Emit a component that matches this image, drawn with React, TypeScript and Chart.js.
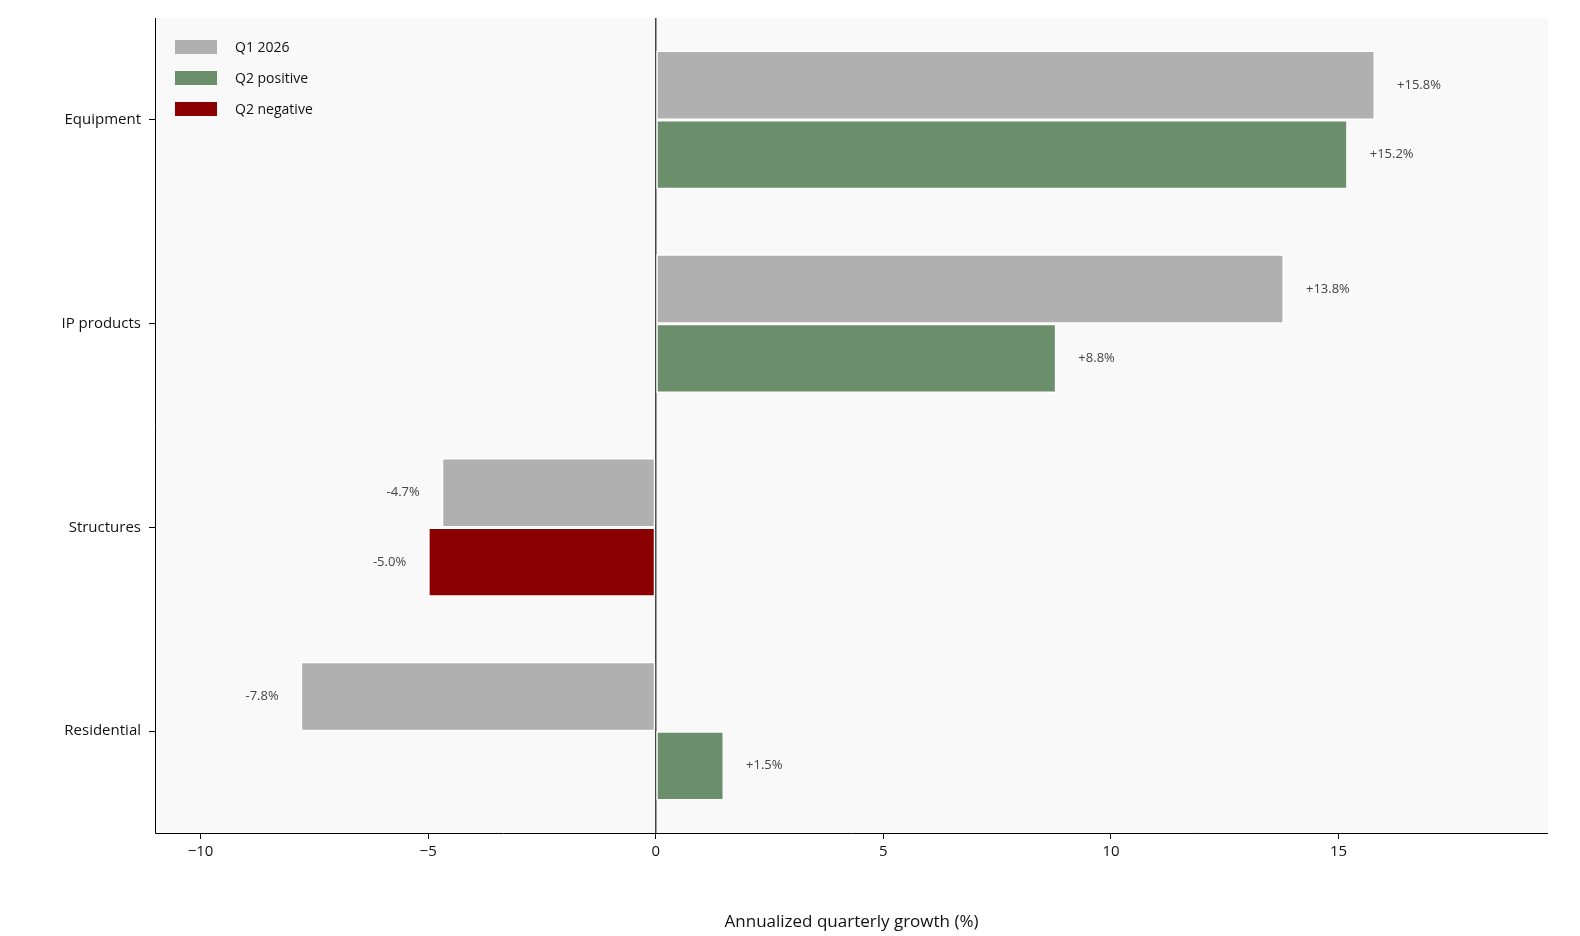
import React, { useEffect, useRef } from "react";
import { Chart, registerables } from "chart.js";
Chart.register(...registerables);

const categories = ["Equipment", "IP products", "Structures", "Residential"];
const q1Values = [15.8, 13.8, -4.7, -7.8];
const q2Values = [15.2, 8.8, -5.0, 1.5];
const xTicks = [-10, -5, 0, 5, 10, 15];
const GRAY = "#b0b0b0", GREEN = "#6a8f6a", RED = "#8b0000";
const FONT = "'Open Sans', 'Noto Sans', sans-serif";

const fmt = (v: number) => (v > 0 ? "+" : "") + v.toFixed(1) + "%";

export default function App() {
  const ref = useRef<HTMLCanvasElement>(null);
  useEffect(() => {
    document.body.style.margin = "0";
    const plugin = {
      id: "custom",
      beforeDraw(c: any) {
        const { ctx, chartArea: a } = c;
        ctx.save();
        ctx.fillStyle = "#fff";
        ctx.fillRect(0, 0, c.width, c.height);
        ctx.fillStyle = "#f9f9f9";
        ctx.fillRect(a.left, a.top, a.right - a.left, a.bottom - a.top);
        ctx.restore();
      },
      beforeDatasetsDraw(c: any) {
        const { ctx, chartArea: a } = c;
        const x0 = c.scales.x.getPixelForValue(0);
        ctx.save();
        ctx.strokeStyle = "#444";
        ctx.lineWidth = 1.5;
        ctx.beginPath();
        ctx.moveTo(x0, a.top);
        ctx.lineTo(x0, a.bottom);
        ctx.stroke();
        ctx.restore();
      },
      afterDatasetsDraw(c: any) {
        const { ctx, chartArea: a } = c;
        ctx.save();
        ctx.font = "13px " + FONT;
        ctx.fillStyle = "#444";
        ctx.textBaseline = "middle";
        c.data.datasets.forEach((ds: any, di: number) => {
          c.getDatasetMeta(di).data.forEach((bar: any, i: number) => {
            const v = ds.data[i];
            if (v >= 0) { ctx.textAlign = "left"; ctx.fillText(fmt(v), bar.x + 22, bar.y); }
            else { ctx.textAlign = "right"; ctx.fillText(fmt(v), bar.x - 22, bar.y); }
          });
        });
        // legend
        const items: [string, string][] = [["Q1 2026", GRAY], ["Q2 positive", GREEN], ["Q2 negative", RED]];
        ctx.font = "14px " + FONT;
        ctx.fillStyle = "#111";
        ctx.textAlign = "left";
        items.forEach(([t, col], k) => {
          const y = a.top + 29 + k * 31;
          ctx.fillStyle = col;
          ctx.fillRect(a.left + 20, y - 7, 42, 14);
          ctx.fillStyle = "#111";
          ctx.fillText(t, a.left + 80, y + 1);
        });
        ctx.strokeStyle = "#000";
        ctx.lineWidth = 1;
        ctx.beginPath();
        ctx.moveTo(a.left + 0.5, a.top);
        ctx.lineTo(a.left + 0.5, a.bottom + 0.5);
        ctx.lineTo(a.right, a.bottom + 0.5);
        ctx.stroke();
        ctx.restore();
      },
    };
    const chart = new Chart(ref.current!, {
      type: "bar",
      data: {
        labels: categories,
        datasets: [
          { label: "Q1 2026", data: q1Values, backgroundColor: GRAY, borderColor: "#fff", borderWidth: 1.5, borderSkipped: false },
          { label: "Q2", data: q2Values, backgroundColor: q2Values.map((v) => (v >= 0 ? GREEN : RED)), borderColor: "#fff", borderWidth: 1.5, borderSkipped: false },
        ],
      },
      options: {
        indexAxis: "y",
        animation: false,
        responsive: false,
        categoryPercentage: 0.68,
        barPercentage: 1,
        layout: { padding: { top: 18, right: 32, left: 0, bottom: 0 } },
        plugins: { legend: { display: false }, tooltip: { enabled: false } },
        scales: {
          x: {
            min: -11, max: 19.6,
            afterBuildTicks: (s: any) => { s.ticks = xTicks.map((v) => ({ value: v })); },
            afterFit: (s: any) => { s.height = 103; },
            border: { display: false },
            grid: { drawOnChartArea: false, tickLength: 6, color: "#000" },
            ticks: { color: "#111", font: { size: 15, family: FONT }, callback: (v: any) => (v < 0 ? "\u2212" + Math.abs(v) : String(v)), padding: 4 },
            title: { display: true, text: "Annualized quarterly growth (%)", color: "#111", font: { size: 17, family: FONT }, padding: { top: 4 } },
          },
          y: {
            afterFit: (s: any) => { s.width = 155; },
            border: { display: false },
            grid: { drawOnChartArea: false, offset: false, tickLength: 6, color: "#000" },
            ticks: { color: "#111", font: { size: 15, family: FONT }, padding: 8 },
          },
        },
      },
      plugins: [plugin],
    } as any);
    return () => chart.destroy();
  }, []);
  return <canvas ref={ref} width={1580} height={936} style={{ display: "block" }} />;
}
